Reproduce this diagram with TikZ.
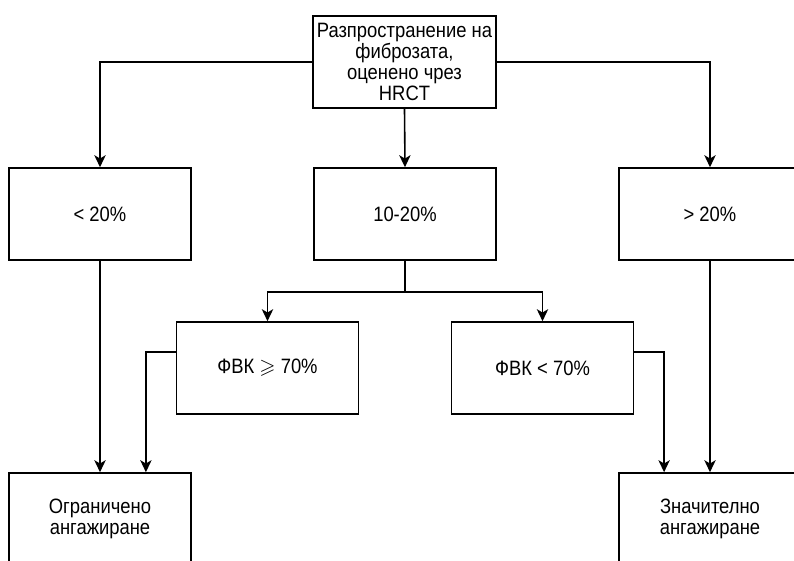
\documentclass[tikz,border=0pt]{standalone}
\usepackage{fontspec}
\setmainfont{Liberation Sans}[FakeStretch=0.885]
\usepackage{amssymb}
\usetikzlibrary{arrows.meta,calc}
\begin{document}
\begin{tikzpicture}[x=0.75pt,y=-0.75pt,
  box/.style={draw, line width=1.2pt, minimum width=136.5pt, minimum height=69pt,
    inner sep=0pt, align=center, font=\fontsize{15.6}{15.75}\selectfont},
  conn/.style={line width=1.2pt, -{Stealth[length=9pt,width=8.5pt,inset=2.5pt]}},
  plain/.style={line width=1.2pt}]
\clip (0,0) rectangle (794,561);
\fill[white] (0,0) rectangle (794,561);
\node[box, minimum width=137.25pt] (top) at (404.5,62) {Разпространение на\\фиброзата,\\оценено чрез\\HRCT};
\node[box] (l1) at (100,214) {< 20\%};
\node[box] (m1) at (405,214) {10-20\%};
\node[box] (r1) at (710,214) {> 20\%};
\node[box] (fl) at (267.5,368) {ФВК $\geqslant$ 70\%};
\node[box] (fr) at (542.5,368) {ФВК < 70\%};
\node[box] (bl) at (100,519) {Ограничено\\ангажиране};
\node[box] (br) at (710,519) {Значително\\ангажиране};
\coordinate (split) at (405,292);
\draw[conn] (top.west) -| (l1.north);
\draw[conn] (top.east) -| (r1.north);
\draw[conn] (top.south) -- (m1.north);
\draw[plain] (m1.south) -- (split);
\draw[conn] (split) -| (fl.north);
\draw[conn] (split) -| (fr.north);
\draw[conn] (l1.south) -- (bl.north);
\draw[conn] (r1.south) -- (br.north);
\draw[conn] ([yshift=12pt]fl.west) -| ($(bl.north)!0.5!(bl.north east)$);
\draw[conn] ([yshift=12pt]fr.east) -| ($(br.north)!0.5!(br.north west)$);
\end{tikzpicture}
\end{document}
